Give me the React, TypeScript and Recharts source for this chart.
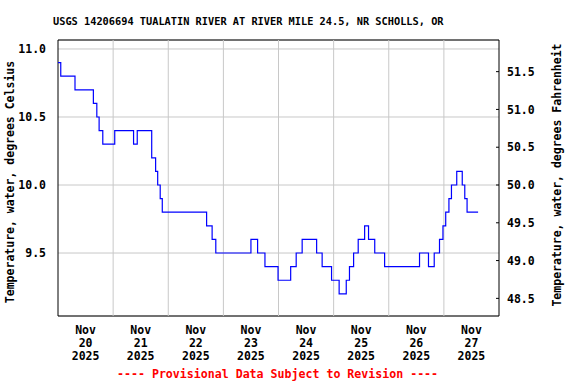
import React from 'react'
import {
  LineChart,
  Line,
  XAxis,
  YAxis,
  CartesianGrid,
  ReferenceLine,
  ReferenceArea,
} from 'recharts'

// hours since Nov 20 2025 00:00, and the water temperature (deg C) that starts there
const hours = [
  0, 1.2, 7.4, 15.4, 16.9, 17.9, 19.5, 24.7, 32.9, 34.5, 40.8, 42.5, 43.4, 44.5,
  45.4, 64.7, 67.1, 68.7, 84.0, 86.9, 90.1, 95.8, 101.3, 103.7, 106.3, 112.6,
  115.0, 119.1, 122.4, 125.5, 126.9, 128.7, 130.7, 133.5, 135.2, 137.9, 142.2,
  157.4, 161.3, 163.8, 166.1, 167.6, 168.8, 170.2, 171.3, 173.6, 176.0, 177.1,
  178.1, 182.9,
]
const tempC = [
  10.9, 10.8, 10.7, 10.6, 10.5, 10.4, 10.3, 10.4, 10.3, 10.4, 10.2, 10.1, 10.0,
  9.9, 9.8, 9.7, 9.6, 9.5, 9.6, 9.5, 9.4, 9.3, 9.4, 9.5, 9.6, 9.5, 9.4, 9.3, 9.2,
  9.3, 9.4, 9.5, 9.6, 9.7, 9.6, 9.5, 9.4, 9.5, 9.4, 9.5, 9.6, 9.7, 9.8, 9.9,
  10.0, 10.1, 10.0, 9.9, 9.8, 9.8,
]

const dayLabels = ['20', '21', '22', '23', '24', '25', '26', '27']
const dayLines = [24, 48, 72, 96, 120, 144, 168]
const labelHours = [12, 36, 60, 84, 108, 132, 156, 180]
const cTicks = [9.5, 10.0, 10.5, 11.0]
const fTicks = [48.5, 49.0, 49.5, 50.0, 50.5, 51.0, 51.5]

const cDomain: [number, number] = [9.037, 11.066]
const fDomain: [number, number] = [cDomain[0] * 1.8 + 32, cDomain[1] * 1.8 + 32]

const data = hours.map((h, i) => ({ h, c: tempC[i], f: tempC[i] * 1.8 + 32 }))

const font = '"DejaVu Sans Mono", monospace'

function DayTick({ x, y, payload }: any) {
  const i = labelHours.indexOf(payload.value)
  return (
    <text x={x} y={y} textAnchor="middle" fontFamily={font} fontWeight="bold" fontSize={11.5} fill="#000">
      <tspan x={x} y={y + 10}>Nov</tspan>
      <tspan x={x} y={y + 23}>{dayLabels[i]}</tspan>
      <tspan x={x} y={y + 36}>2025</tspan>
    </text>
  )
}

function FTick({ x, y, payload }: any) {
  const ax = x - 8
  return (
    <g>
      <line x1={ax - 3} x2={ax} y1={y} y2={y} stroke="#000" />
      <text x={x} y={y} dy="0.36em" textAnchor="start" fontFamily={font} fontWeight="bold" fontSize={11.5} fill="#000">
        {payload.value.toFixed(1)}
      </text>
    </g>
  )
}

const textStyle: React.CSSProperties = {
  position: 'absolute',
  fontFamily: font,
  fontWeight: 'bold',
  whiteSpace: 'pre',
  lineHeight: 1,
}

export default function App() {
  return (
    <div style={{ position: 'absolute', left: 0, top: 0, width: 576, height: 384, background: '#fff' }}>
      <div style={{ ...textStyle, left: 53, top: 16, fontSize: 10.3 }}>
        USGS 14206694 TUALATIN RIVER AT RIVER MILE 24.5, NR SCHOLLS, OR
      </div>
      <div
        style={{
          ...textStyle,
          left: 11,
          top: 182,
          fontSize: 11.5,
          transform: 'translate(-50%, -50%) rotate(-90deg)',
        }}
      >
        Temperature, water, degrees Celsius
      </div>
      <div
        style={{
          ...textStyle,
          left: 557.5,
          top: 175,
          fontSize: 11.5,
          transform: 'translate(-50%, -50%) rotate(-90deg)',
        }}
      >
        Temperature, water, degrees Fahrenheit
      </div>
      <div style={{ ...textStyle, left: 117, top: 369, fontSize: 11.6, color: '#f00' }}>
        ---- Provisional Data Subject to Revision ----
      </div>
      <LineChart
        width={576}
        height={384}
        data={data}
        margin={{ top: 40, right: 0, bottom: 0, left: 0 }}
        style={{ position: 'absolute', left: 0, top: 0 }}
      >
        <CartesianGrid yAxisId="c" vertical={false} stroke="#c8c8c8" strokeWidth={1} />
        {dayLines.map((d) => (
          <ReferenceLine key={d} yAxisId="c" x={d} stroke="#c8c8c8" strokeWidth={1} />
        ))}
        <XAxis
          dataKey="h"
          type="number"
          domain={[0, 192]}
          ticks={labelHours}
          tick={DayTick}
          tickLine={false}
          axisLine={false}
          height={68}
          interval={0}
          allowDataOverflow
        />
        <YAxis
          yAxisId="c"
          orientation="left"
          domain={cDomain}
          ticks={cTicks}
          tickFormatter={(v: number) => v.toFixed(1)}
          tick={{ fontFamily: font, fontWeight: 'bold', fontSize: 11.5, fill: '#000' }}
          tickLine={false}
          axisLine={false}
          tickSize={6}
          tickMargin={6}
          width={58}
          allowDataOverflow
          interval={0}
        />
        <YAxis
          yAxisId="f"
          orientation="right"
          domain={fDomain}
          ticks={fTicks}
          tick={FTick}
          tickLine={false}
          axisLine={false}
          tickSize={6}
          tickMargin={2}
          width={77}
          allowDataOverflow
          interval={0}
        />
        <ReferenceArea
          yAxisId="c"
          x1={0}
          x2={192}
          y1={cDomain[0]}
          y2={cDomain[1]}
          fill="none"
          stroke="#000"
          strokeWidth={1}
          ifOverflow="extendDomain"
        />
        <Line
          yAxisId="f"
          dataKey="f"
          stroke="none"
          dot={false}
          activeDot={false}
          isAnimationActive={false}
        />
        <Line
          yAxisId="c"
          type="stepAfter"
          dataKey="c"
          stroke="#0000ff"
          strokeWidth={1.2}
          dot={false}
          activeDot={false}
          isAnimationActive={false}
        />
      </LineChart>
    </div>
  )
}
